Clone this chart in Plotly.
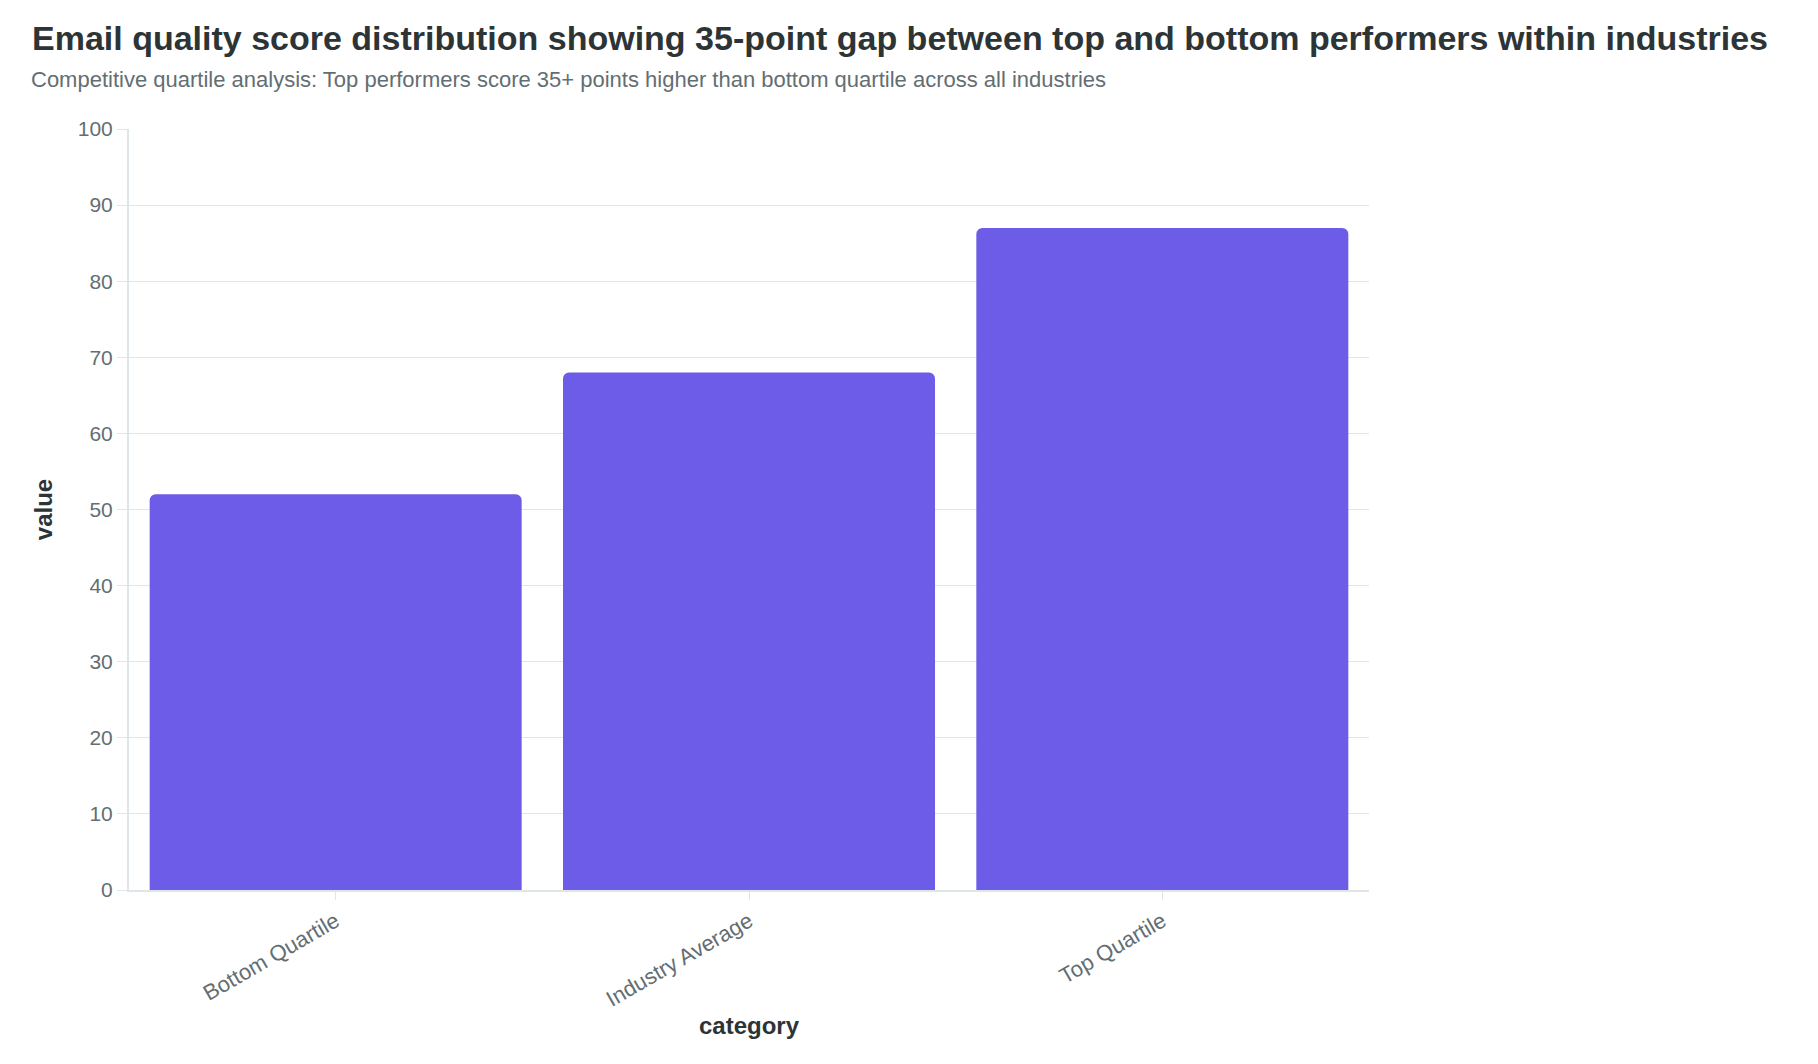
import plotly.graph_objects as go

# Quartile scores
categories = ["Bottom Quartile", "Industry Average", "Top Quartile"]
scores = [52, 68, 87]
y_ticks = [0, 10, 20, 30, 40, 50, 60, 70, 80, 90, 100]

title = ("Email quality score distribution showing 35-point gap between "
         "top and bottom performers within industries")
subtitle = ("Competitive quartile analysis: Top performers score 35+ points "
            "higher than bottom quartile across all industries")

font_family = "Liberation Sans, Arial, sans-serif"

fig = go.Figure()
fig.add_trace(go.Bar(
    x=categories,
    y=scores,
    marker=dict(color="#6c5ce7", line=dict(width=0)),
    name="value",
))

fig.update_layout(
    width=1818,
    height=1064,
    paper_bgcolor="white",
    plot_bgcolor="white",
    font=dict(family=font_family, color="#636e72", size=21),
    margin=dict(l=121, r=457, t=121, b=182),
    bargap=0.1,
    barcornerradius=6,
    showlegend=False,
    title=dict(
        text="<b>" + title + "</b>",
        font=dict(size=34, color="#2d3436", family=font_family),
        xref="container", yref="container",
        x=0.0132, xanchor="left",
        y=0.9718, yanchor="middle",
    ),
)

# Subtitle under the title
fig.add_annotation(
    text=subtitle,
    xref="paper", yref="paper",
    x=-0.081, y=1.0644,
    xanchor="left", yanchor="middle",
    showarrow=False,
    font=dict(size=22, color="#636e72", family=font_family),
)

fig.update_xaxes(
    title=dict(text="<b>category</b>", font=dict(size=24, color="#2d3436"), standoff=4),
    tickangle=-30,
    ticks="outside", ticklen=8, tickcolor="#dfe6e9",
    showline=True, linecolor="#dfe6e9", linewidth=2,
    showgrid=False,
    tickfont=dict(size=22, color="#636e72"),
)
fig.update_yaxes(
    title=dict(text="<b>value</b>", font=dict(size=24, color="#2d3436"), standoff=18),
    range=[0, 100],
    tickvals=y_ticks,
    ticks="outside", ticklen=10, tickcolor="#dfe6e9",
    showline=True, linecolor="#dfe6e9", linewidth=2,
    showgrid=True, gridcolor="#dfe6e9", gridwidth=1,
    zeroline=False,
    tickfont=dict(size=21, color="#636e72"),
)

fig.write_html("out.html")
